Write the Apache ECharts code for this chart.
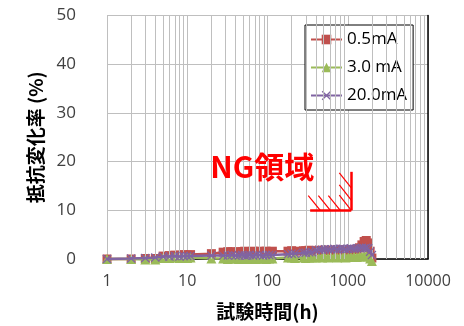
<!DOCTYPE html>
<html><head><meta charset="utf-8">
<script src="https://cdn.jsdelivr.net/npm/echarts@6/dist/echarts.min.js"></script>
<style>html,body{margin:0;padding:0;background:#fff}#c{width:464px;height:326px}</style>
</head><body><div id="c"></div>
<script>
// ---- data ----
const hours = [1,2,3,4,5,6,7,8,9,10,11,
  20,28,32,36,40,44,48,52,56,60,66,72,80,88,96,105,115,
  180,200,220,
  280,300,330,360,
  400,440,480,520,570,620,680,740,800,870,940,1020,1100,1200,1300,
  1400,1500,1600,1700,1800,1900,2000];
const s05 = [0,0,0.1,0.1,0.6,0.7,0.8,0.8,0.9,0.8,0.9,
  1.1,1.4,1.5,1.5,1.4,1.5,1.5,1.6,1.5,1.5,1.6,1.5,1.6,1.5,1.6,1.5,1.6,
  1.6,1.7,1.6,
  1.7,1.7,1.8,1.6,
  1.7,1.8,1.7,1.8,1.8,1.7,1.8,1.9,1.8,1.8,1.9,1.8,1.9,1.9,2.0,
  2.3,2.9,3.6,3.8,3.3,1.6,0.2];
const s30 = [0,0,-0.1,-0.1,0.2,0.2,0.3,0.2,0.3,0.2,0.3,
  0.1,0.1,0.0,0.1,0.1,0.0,0.1,0.1,0.0,0.1,0.1,0.0,0.1,0.1,0.0,0.1,0.1,
  0.3,0.3,0.2,
  0.3,0.2,0.3,0.3,
  0.3,0.4,0.3,0.4,0.3,0.4,0.4,0.3,0.4,0.4,0.3,0.4,0.4,0.5,0.4,
  0.5,0.5,0.6,0.6,0.5,0.1,-0.4];
const s200 = [0,0.1,0.2,0.3,0.5,0.5,0.6,0.5,0.6,0.6,0.6,
  0.7,0.7,0.7,0.8,0.7,0.7,0.8,0.7,0.7,0.8,0.7,0.8,0.8,0.7,0.8,0.8,0.8,
  1.0,1.1,1.1,
  1.3,1.3,1.4,1.4,
  1.8,1.9,1.9,2.0,2.0,2.0,2.1,2.0,2.1,2.1,2.0,2.1,2.2,2.1,2.2,
  2.2,2.3,2.2,2.3,2.2,1.5,0.8];
const seriesNames = ['0.5mA','3.0 mA','20.0mA'];
const xTickLabels = [1,10,100,1000,10000];
const minorGridX = [2,3,4,5,6,7,8,9,20,30,40,50,60,70,80,90,200,300,400,500,600,700,800,900,2000,3000,4000,5000,6000,7000,8000,9000];
const ngBoundary = [[340,10],[1107,10],[1107,17.9]];
const ngHatch = [
  [[322,13.0],[455,10]],
  [[430,13.0],[607,10]],
  [[573,13.0],[807,10]],
  [[785,13.1],[1107,10]],
  [[785,15.2],[1107,12.1]],
  [[785,17.7],[1107,14.6]]
];
const ngText = 'NG領域';
const ngTextAt = [86,18.9];
const xName = '試験時間(h)';
const yName = '抵抗変化率 (%)';

// ---- chart ----
const red='#C0504D', green='#9BBB59', purple='#8064A2';
const gridGray='#BFBFBF';
const xMark = 'path://M0,1L1,0L5,4L9,0L10,1L6,5L10,9L9,10L5,6L1,10L0,9L4,5Z';
function pairs(ys){ return hours.map((h,i)=>[h, ys[i]]); }
const font = "'Open Sans','Noto Sans',sans-serif";

const chart = echarts.init(document.getElementById('c'), null, {renderer:'canvas'});
chart.setOption({
  animation:false,
  backgroundColor:'#fff',
  grid:{left:107,right:36,top:15.5,bottom:67,containLabel:false},
  legend:{
    data:seriesNames, orient:'vertical', left:305, top:25,
    backgroundColor:'#fff', borderColor:'#000', borderWidth:1,
    padding:[6,6,6,5], itemGap:11, itemWidth:31, itemHeight:12,
    textStyle:{fontSize:17, color:'#000', fontFamily:font}
  },
  xAxis:[{
    type:'log', logBase:10, min:1, max:10000, splitNumber:4,
    axisLine:{show:true,onZero:false,lineStyle:{color:gridGray}},
    axisTick:{show:false},
    splitLine:{show:true,lineStyle:{color:gridGray,width:1}},
    axisLabel:{fontSize:16,color:'#404040',margin:14,fontFamily:font,
      formatter:v=>xTickLabels.includes(Math.round(v))?String(Math.round(v)):''},
    name:xName, nameLocation:'middle', nameGap:43,
    nameTextStyle:{fontSize:19,fontWeight:'bold',color:'#000',fontFamily:"'Noto Sans CJK JP',sans-serif"}
  },{
    type:'log', logBase:10, min:1, max:10000, position:'top',
    axisLine:{show:true,lineStyle:{color:'#000',width:1.5}},
    axisTick:{show:false}, axisLabel:{show:false}, splitLine:{show:false}
  }],
  yAxis:[{
    type:'value', min:0, max:50, interval:10,
    axisLine:{show:true,lineStyle:{color:gridGray}},
    axisTick:{show:false},
    splitLine:{show:true,lineStyle:{color:gridGray,width:1}},
    axisLabel:{fontSize:17,color:'#404040',margin:31,fontFamily:font},
    name:yName, nameLocation:'middle', nameGap:55,
    nameTextStyle:{fontSize:19,fontWeight:'bold',color:'#000',fontFamily:"'Noto Sans CJK JP',sans-serif"}
  },{
    type:'value', min:0, max:50, interval:10, position:'right',
    axisLine:{show:true,lineStyle:{color:'#000',width:1.5}},
    axisTick:{show:false}, axisLabel:{show:false}, splitLine:{show:false}
  }],
  series:[
    {
      name:'grid', type:'line', data:[], silent:true, z:1,
      markLine:{silent:true, symbol:['none','none'], label:{show:false},
        lineStyle:{color:gridGray,width:1,type:'solid'},
        data:minorGridX.map(v=>({xAxis:v}))}
    },
    {
      name:seriesNames[0], type:'line', data:pairs(s05), clip:false,
      symbol:'rect', symbolSize:9, color:red,
      lineStyle:{color:red,width:2.5}, itemStyle:{color:red}, z:3
    },
    {
      name:seriesNames[1], type:'line', data:pairs(s30), clip:false,
      symbol:'triangle', symbolSize:10, color:green,
      lineStyle:{color:green,width:2.5}, itemStyle:{color:green}, z:4
    },
    {
      name:seriesNames[2], type:'line', data:pairs(s200), clip:false,
      symbol:xMark, symbolSize:9, color:purple,
      lineStyle:{color:purple,width:2.5}, itemStyle:{color:purple}, z:5
    },
    {
      name:'ng', type:'line', data:[], silent:true, z:6,
      markLine:{silent:true, symbol:['none','none'], label:{show:false},
        data:[
          [{coord:ngBoundary[0],lineStyle:{color:'#FF0000',width:2.5,type:'solid'}},{coord:ngBoundary[1]}],
          [{coord:ngBoundary[1],lineStyle:{color:'#FF0000',width:2.5,type:'solid'}},{coord:ngBoundary[2]}]
        ].concat(ngHatch.map(h=>[{coord:h[0],lineStyle:{color:'#FF0000',width:1.2,type:'solid'}},{coord:h[1]}]))
      },
      markPoint:{silent:true, symbol:'circle', symbolSize:0,
        data:[{coord:ngTextAt, value:ngText}],
        label:{show:true, position:'inside', formatter:ngText, color:'#FF0000',
          fontSize:30, fontWeight:'bold', fontFamily:"'Noto Sans CJK JP',sans-serif"}
      }
    }
  ]
});
</script></body></html>
